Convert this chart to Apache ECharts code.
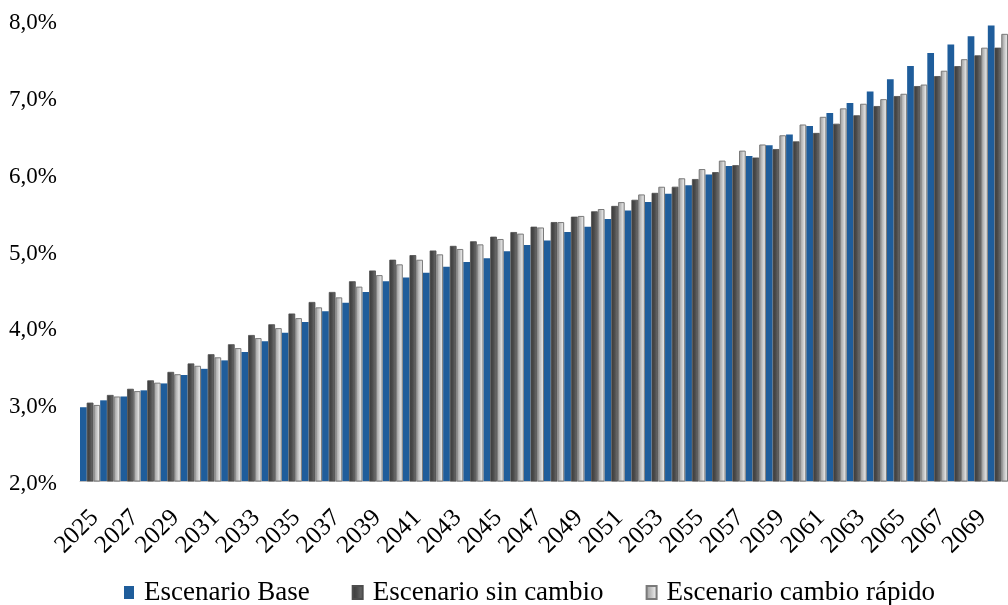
<!DOCTYPE html>
<html>
<head>
<meta charset="utf-8">
<script src="https://cdn.jsdelivr.net/npm/echarts@6/dist/echarts.min.js"></script>
<style>
  html, body { margin: 0; padding: 0; background: #ffffff; }
  #chart { width: 1008px; height: 605px; }
</style>
</head>
<body>
<div id="chart"></div>
<script>
// Years on the category axis
const years = [];
for (let y = 2025; y <= 2070; y++) years.push(String(y));

// Series values (percent)
const escenarioBase = [2.96, 3.05, 3.10, 3.18, 3.27, 3.38, 3.46, 3.57, 3.68, 3.82,
  3.93, 4.07, 4.21, 4.32, 4.46, 4.60, 4.65, 4.71, 4.79, 4.85,
  4.90, 4.99, 5.07, 5.13, 5.24, 5.31, 5.41, 5.52, 5.63, 5.74,
  5.85, 5.99, 6.10, 6.23, 6.37, 6.51, 6.62, 6.79, 6.92, 7.07,
  7.23, 7.40, 7.57, 7.68, 7.79, 7.93];

const escenarioSinCambio = [3.02, 3.12, 3.20, 3.31, 3.42, 3.53, 3.65, 3.78, 3.90, 4.04,
  4.18, 4.33, 4.46, 4.60, 4.74, 4.88, 4.94, 5.00, 5.06, 5.12,
  5.18, 5.24, 5.31, 5.37, 5.44, 5.51, 5.58, 5.66, 5.75, 5.83,
  5.93, 6.02, 6.11, 6.21, 6.32, 6.42, 6.53, 6.65, 6.76, 6.88,
  7.01, 7.14, 7.27, 7.40, 7.54, 7.64];

const escenarioCambioRapido = [2.99, 3.10, 3.17, 3.28, 3.39, 3.50, 3.61, 3.73, 3.86, 3.99,
  4.12, 4.26, 4.39, 4.53, 4.68, 4.82, 4.88, 4.95, 5.02, 5.08,
  5.15, 5.22, 5.30, 5.37, 5.45, 5.54, 5.63, 5.73, 5.83, 5.94,
  6.06, 6.17, 6.30, 6.38, 6.50, 6.64, 6.74, 6.85, 6.91, 6.97,
  7.04, 7.16, 7.34, 7.49, 7.64, 7.82];

const seriesNames = ['Escenario Base', 'Escenario sin cambio', 'Escenario cambio rápido'];

// Y axis range
const yMin = 2, yMax = 8, yStep = 1;

const FONT = '"Liberation Serif", "Times New Roman", serif';

function hGrad(stops) {
  return new echarts.graphic.LinearGradient(0, 0, 1, 0,
    stops.map(([o, c]) => ({ offset: o, color: c })));
}

const blueFill = '#1F5D9B';
const darkFill = hGrad([[0, '#3a3a3a'], [0.45, '#4a4a4a'], [0.8, '#646464'], [1, '#5a5a5a']]);
const lightFill = hGrad([[0, '#9a9a9a'], [0.4, '#bdbdbd'], [0.75, '#e2e2e2'], [1, '#cfcfcf']]);

const chart = echarts.init(document.getElementById('chart'), null, { renderer: 'canvas' });

chart.setOption({
  animation: false,
  backgroundColor: '#ffffff',
  textStyle: { fontFamily: FONT },
  grid: { left: 80, right: -4, top: 20, bottom: 124, containLabel: false },
  legend: {
    top: 574,
    left: 119,
    itemWidth: 10,
    itemHeight: 13,
    itemGap: 42,
    icon: 'rect',
    textStyle: { fontFamily: FONT, fontSize: 27, color: '#000000', padding: [0, 0, 0, 5] },
    data: seriesNames
  },
  xAxis: {
    type: 'category',
    data: years,
    boundaryGap: true,
    axisLine: { show: true, lineStyle: { color: '#bfbfbf', width: 1 } },
    axisTick: { show: false },
    axisLabel: {
      interval: 1,
      rotate: 45,
      margin: 20,
      verticalAlign: 'top',
      padding: [0, 6, 0, 0],
      fontFamily: FONT,
      fontSize: 25,
      color: '#000000'
    },
    splitLine: { show: false }
  },
  yAxis: {
    type: 'value',
    min: yMin,
    max: yMax,
    interval: yStep,
    axisLine: { show: false },
    axisTick: { show: false },
    splitLine: { show: false },
    axisLabel: {
      margin: 23,
      fontFamily: FONT,
      fontSize: 23,
      color: '#000000',
      verticalAlign: 'top',
      lineHeight: 6,
      formatter: v => v.toFixed(1).replace('.', ',') + '%'
    }
  },
  series: [
    {
      name: seriesNames[0],
      type: 'bar',
      data: escenarioBase,
      barGap: '0%',
      barCategoryGap: '0%',
      itemStyle: { color: blueFill }
    },
    {
      name: seriesNames[1],
      type: 'bar',
      data: escenarioSinCambio,
      barGap: '0%',
      barCategoryGap: '0%',
      itemStyle: { color: darkFill, borderColor: '#4d4d4d', borderWidth: 0.8 }
    },
    {
      name: seriesNames[2],
      type: 'bar',
      data: escenarioCambioRapido,
      barGap: '0%',
      barCategoryGap: '0%',
      itemStyle: { color: lightFill, borderColor: '#7a7a7a', borderWidth: 1 }
    }
  ]
});
</script>
</body>
</html>
